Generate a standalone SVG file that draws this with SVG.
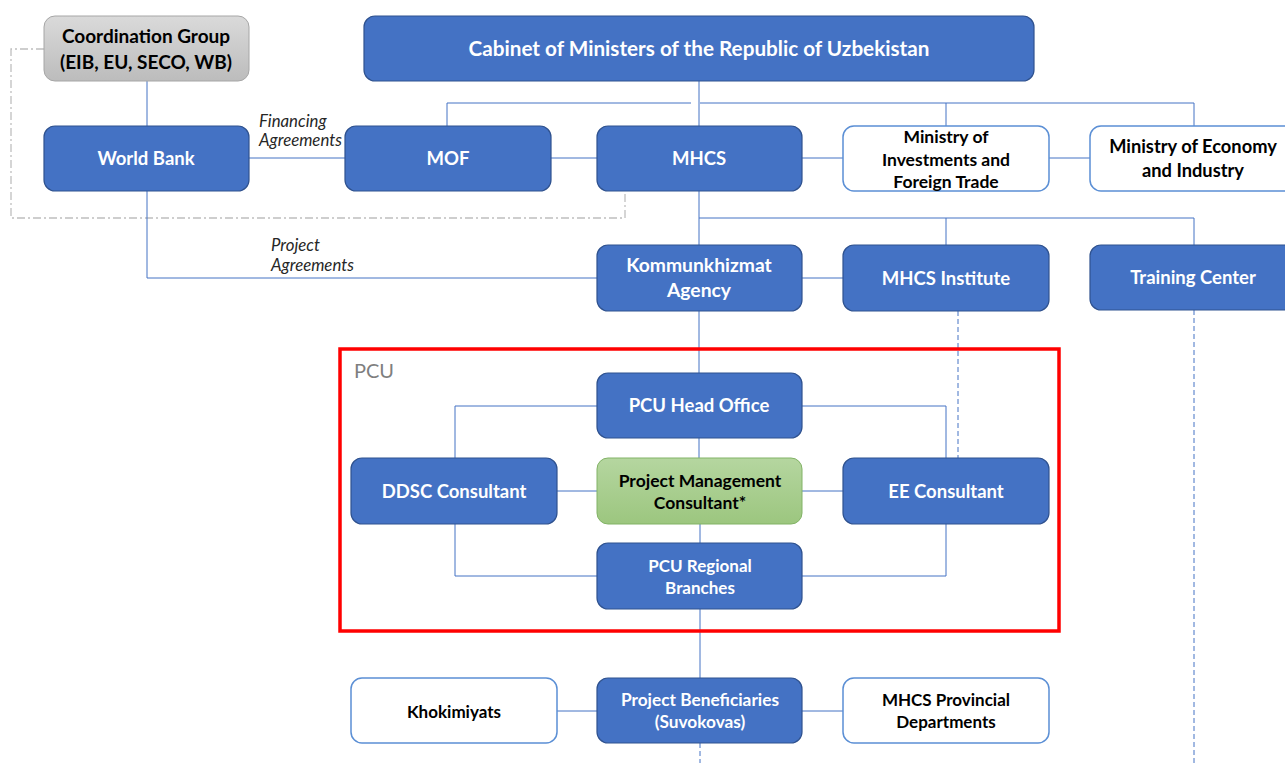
<svg xmlns="http://www.w3.org/2000/svg" width="1285" height="763" viewBox="0 0 1285 763">
  <defs>
    <linearGradient id="grayFill" x1="0" y1="0" x2="0" y2="1">
      <stop offset="0" stop-color="#dadada"/>
      <stop offset="1" stop-color="#bcbcbc"/>
    </linearGradient>
    <linearGradient id="greenFill" x1="0" y1="0" x2="0" y2="1">
      <stop offset="0" stop-color="#b5d6a0"/>
      <stop offset="1" stop-color="#9cc67f"/>
    </linearGradient>
  </defs>
  <style>
    .blue { fill: #4472c4; stroke: #2f528f; stroke-width: 1.2; }
    .white { fill: #ffffff; stroke: #5b8fd5; stroke-width: 1.5; }
    .gray { fill: url(#grayFill); stroke: #a6a6a6; stroke-width: 1; }
    .green { fill: url(#greenFill); stroke: #82b366; stroke-width: 1; }
    .t { font-family: Lato, "Open Sans", "Liberation Sans", sans-serif; font-weight: bold; text-anchor: middle; }
    .tw { fill: #ffffff; font-size: 18.5px; }
    .tk { fill: #000000; font-size: 17.5px; }
    .ts { font-size: 17px; }
    .lbl { font-family: Lato, "Open Sans", "Liberation Sans", sans-serif; font-style: italic; font-size: 16.8px; fill: #262626; }
    .ln { fill: none; stroke: #4472c4; stroke-width: 1; }
    .dash { fill: none; stroke: #4472c4; stroke-width: 1; stroke-dasharray: 5 3; }
    .dashdot { fill: none; stroke: #bfbfbf; stroke-width: 1.3; stroke-dasharray: 8 3 2 3; }
  </style>

  <!-- connectors -->
  <g id="connectors">
    <path class="dashdot" d="M44 49 H11 V218 H625 V191"/>
    <path class="ln" d="M147 81 V126"/>
    <path class="ln" d="M249 158 H345"/>
    <path class="ln" d="M551 158 H597"/>
    <path class="ln" d="M802 158 H843"/>
    <path class="ln" d="M1049 158 H1090"/>
    <path class="ln" d="M699 81 V126"/>
    <path class="ln" d="M447 126 V103 H691"/>
    <path class="ln" d="M700 103 H1194 V126"/>
    <path class="ln" d="M946 103 V126"/>
    <path class="ln" d="M699 191 V245"/>
    <path class="ln" d="M699 218 H1194 V245"/>
    <path class="ln" d="M946 218 V245"/>
    <path class="ln" d="M147 191 V278 H597"/>
    <path class="ln" d="M802 278 H843"/>
    <path class="dash" d="M958 311 V458"/>
    <path class="dash" d="M1194 310 V763"/>
    <path class="ln" d="M699 311 V373"/>
    <path class="ln" d="M597 406 H455 V458"/>
    <path class="ln" d="M802 406 H946 V458"/>
    <path class="ln" d="M699 438 V458"/>
    <path class="ln" d="M557 491 H597"/>
    <path class="ln" d="M802 491 H843"/>
    <path class="ln" d="M700 524 V543"/>
    <path class="ln" d="M455 524 V576 H597"/>
    <path class="ln" d="M946 524 V576 H802"/>
    <path class="ln" d="M700 609 V678"/>
    <path class="ln" d="M557 711 H597"/>
    <path class="ln" d="M802 711 H843"/>
    <path class="dash" d="M700 743 V763"/>
    <text class="lbl" x="259" y="127">Financing</text>
    <text class="lbl" x="259" y="146">Agreements</text>
    <text class="lbl" x="271" y="251">Project</text>
    <text class="lbl" x="271" y="271">Agreements</text>
  </g>

  <!-- PCU frame -->
  <g id="pcu-frame">
    <rect x="340" y="349" width="719" height="282" fill="none" stroke="#ff0000" stroke-width="3.5"/>
    <text x="354" y="378" font-family="Lato, 'Open Sans', 'Liberation Sans', sans-serif" font-size="20" fill="#7f7f7f">PCU</text>
  </g>

  <g id="coordination-group">
    <rect class="gray" x="44" y="16" width="205" height="65" rx="11"/>
    <text class="t tk" x="146" y="43" style="font-size:19px">Coordination Group</text>
    <text class="t tk" x="146" y="69" style="font-size:19px">(EIB, EU, SECO, WB)</text>
  </g>

  <g id="cabinet">
    <rect class="blue" x="364" y="16" width="670" height="65" rx="11"/>
    <text class="t tw" x="699" y="56" style="font-size:20.7px">Cabinet of Ministers of the Republic of Uzbekistan</text>
  </g>

  <g id="world-bank">
    <rect class="blue" x="44" y="126" width="205" height="65" rx="11"/>
    <text class="t tw" x="146" y="165">World Bank</text>
  </g>

  <g id="mof">
    <rect class="blue" x="345" y="126" width="206" height="65" rx="11"/>
    <text class="t tw" x="448" y="165">MOF</text>
  </g>

  <g id="mhcs">
    <rect class="blue" x="597" y="126" width="205" height="65" rx="11"/>
    <text class="t tw" x="699" y="165">MHCS</text>
  </g>

  <g id="ministry-investments">
    <rect class="white" x="843" y="126" width="206" height="65" rx="11"/>
    <text class="t tk" x="946" y="143">Ministry of</text>
    <text class="t tk" x="946" y="166">Investments and</text>
    <text class="t tk" x="946" y="188">Foreign Trade</text>
  </g>

  <g id="ministry-economy">
    <rect class="white" x="1090" y="126" width="210" height="65" rx="11"/>
    <text class="t tk" x="1193" y="153" style="font-size:18.3px">Ministry of Economy</text>
    <text class="t tk" x="1193" y="177" style="font-size:18.3px">and Industry</text>
  </g>

  <g id="kommunkhizmat">
    <rect class="blue" x="597" y="245" width="205" height="66" rx="11"/>
    <text class="t tw" x="699" y="272" style="font-size:19.3px">Kommunkhizmat</text>
    <text class="t tw" x="699" y="297" style="font-size:19.3px">Agency</text>
  </g>

  <g id="mhcs-institute">
    <rect class="blue" x="843" y="245" width="206" height="66" rx="11"/>
    <text class="t tw" x="946" y="285">MHCS Institute</text>
  </g>

  <g id="training-center">
    <rect class="blue" x="1090" y="245" width="210" height="65" rx="11"/>
    <text class="t tw" x="1193" y="284">Training Center</text>
  </g>

  <g id="pcu-head-office">
    <rect class="blue" x="597" y="373" width="205" height="65" rx="11"/>
    <text class="t tw" x="699" y="412">PCU Head Office</text>
  </g>

  <g id="ddsc-consultant">
    <rect class="blue" x="351" y="458" width="206" height="66" rx="11"/>
    <text class="t tw" x="454" y="498">DDSC Consultant</text>
  </g>

  <g id="project-management-consultant">
    <rect class="green" x="597" y="458" width="205" height="66" rx="11"/>
    <text class="t tk" x="700" y="487">Project Management</text>
    <text class="t tk" x="700" y="509">Consultant*</text>
  </g>

  <g id="ee-consultant">
    <rect class="blue" x="843" y="458" width="206" height="66" rx="11"/>
    <text class="t tw" x="946" y="498">EE Consultant</text>
  </g>

  <g id="pcu-regional-branches">
    <rect class="blue" x="597" y="543" width="205" height="66" rx="11"/>
    <text class="t tw ts" x="700" y="572">PCU Regional</text>
    <text class="t tw ts" x="700" y="594">Branches</text>
  </g>

  <g id="khokimiyats">
    <rect class="white" x="351" y="678" width="206" height="65" rx="11"/>
    <text class="t tk ts" x="454" y="718">Khokimiyats</text>
  </g>

  <g id="project-beneficiaries">
    <rect class="blue" x="597" y="678" width="205" height="65" rx="11"/>
    <text class="t tw" x="700" y="706" style="font-size:17.3px">Project Beneficiaries</text>
    <text class="t tw" x="700" y="728" style="font-size:17.3px">(Suvokovas)</text>
  </g>

  <g id="mhcs-provincial">
    <rect class="white" x="843" y="678" width="206" height="65" rx="11"/>
    <text class="t tk ts" x="946" y="706">MHCS Provincial</text>
    <text class="t tk ts" x="946" y="728">Departments</text>
  </g>
</svg>
